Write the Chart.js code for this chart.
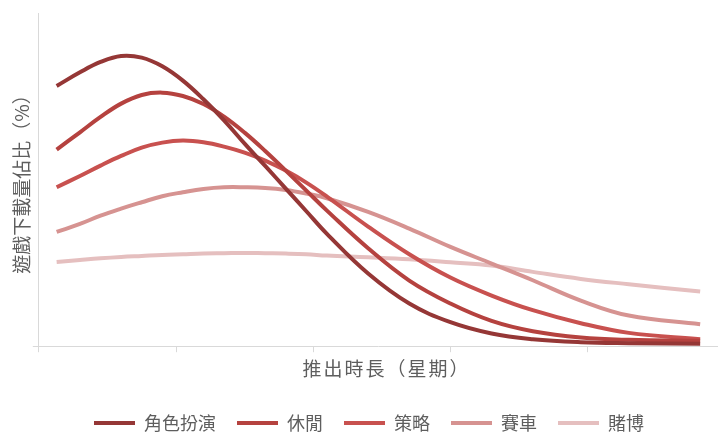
<!DOCTYPE html>
<html>
<head>
<meta charset="utf-8">
<script src="https://cdn.jsdelivr.net/npm/chart.js@4/dist/chart.umd.min.js"></script>
<style>
  html, body { margin: 0; padding: 0; background: #ffffff; }
  #wrap { width: 718px; height: 432px; }
</style>
</head>
<body>
<div id="wrap"><canvas id="c" width="718" height="432"></canvas></div>
<script>
// ---- data ----
const weeks = [1.3, 3, 4.5, 6, 7.5, 9, 10.5, 12, 13.5, 15, 16.5, 18, 19.5, 21, 24, 27, 30, 33, 36, 39.5, 43, 48.2];

const seriesNames = ['角色扮演', '休閒', '策略', '賽車', '賭博'];

const rolePlaying = [7.81, 8.22, 8.53, 8.71, 8.66, 8.40, 7.97, 7.41, 6.78, 6.08, 5.41, 4.73, 4.05, 3.37, 2.18, 1.28, 0.72, 0.38, 0.21, 0.12, 0.09, 0.07];
const casual      = [5.90, 6.42, 6.88, 7.28, 7.54, 7.61, 7.51, 7.27, 6.89, 6.41, 5.86, 5.27, 4.67, 4.07, 2.94, 1.97, 1.28, 0.76, 0.45, 0.26, 0.19, 0.16];
const strategy    = [4.77, 5.11, 5.42, 5.71, 5.96, 6.11, 6.17, 6.12, 5.99, 5.81, 5.57, 5.27, 4.91, 4.49, 3.59, 2.76, 2.06, 1.52, 1.08, 0.69, 0.40, 0.21];
const racing      = [3.43, 3.67, 3.92, 4.13, 4.32, 4.50, 4.62, 4.72, 4.77, 4.77, 4.75, 4.69, 4.58, 4.44, 4.03, 3.53, 2.98, 2.48, 1.98, 1.37, 0.92, 0.66];
const gambling    = [2.53, 2.59, 2.64, 2.68, 2.71, 2.74, 2.76, 2.78, 2.79, 2.80, 2.79, 2.78, 2.76, 2.72, 2.67, 2.61, 2.52, 2.42, 2.23, 2.02, 1.86, 1.64];

const xTitle = '推出時長（星期）';
const yTitle = '遊戲下載量佔比（%）';

// ---- styling ----
const colors = ['#953736', '#b5423f', '#c8514f', '#d69391', '#e5bfbf'];
const allSeries = [rolePlaying, casual, strategy, racing, gambling];
const FONT = "'Noto Sans CJK TC', 'Noto Sans CJK SC', 'Noto Sans', sans-serif";
const TEXT = '#5e5e5e';
const AXIS = '#d9d9d9';

const datasets = allSeries.map((vals, i) => ({
  label: seriesNames[i],
  data: weeks.map((w, j) => ({ x: w, y: vals[j] })),
  borderColor: colors[i],
  backgroundColor: colors[i],
  borderWidth: 4,
  pointRadius: 0,
  pointHoverRadius: 0,
  tension: 0.4,
  fill: false
}));

// small layout helpers: nudge the legend and space/shift the x-axis title
const layoutTweaks = {
  id: 'layoutTweaks',
  afterLayout(chart, args, opts) {
    const l = chart.legend;
    if (l) {
      l.left += opts.legendDx; l.right += opts.legendDx;
      l.top += opts.legendDy; l.bottom += opts.legendDy;
    }
    const xs = chart.scales.x;
    if (xs && !xs.__patched) {
      const orig = xs.drawTitle.bind(xs);
      xs.drawTitle = function () {
        const ctx = this.ctx;
        ctx.save();
        ctx.translate(opts.titleDx, 0);
        if ('letterSpacing' in ctx) ctx.letterSpacing = opts.titleSpacing;
        orig();
        ctx.restore();
      };
      xs.__patched = true;
    }
  }
};

new Chart(document.getElementById('c'), {
  type: 'line',
  data: { datasets },
  plugins: [layoutTweaks],
  options: {
    responsive: false,
    devicePixelRatio: 1,
    animation: false,
    layout: { padding: { top: 13, left: 0, right: 0, bottom: 0 } },
    scales: {
      x: {
        type: 'linear',
        min: 0,
        max: 49.5,
        ticks: { display: false, stepSize: 10 },
        grid: { display: true, drawOnChartArea: false, drawTicks: true, tickLength: 6, color: AXIS },
        border: { display: true, color: AXIS, width: 1 },
        title: {
          display: true, text: xTitle, color: TEXT,
          font: { family: FONT, size: 19 },
          padding: { top: 5, bottom: 3 }
        }
      },
      y: {
        min: 0,
        max: 10,
        ticks: { display: false },
        afterBuildTicks(scale) { scale.ticks = [{ value: 0 }]; },
        grid: { display: true, drawOnChartArea: false, drawTicks: true, tickLength: 6, color: AXIS },
        border: { display: true, color: AXIS, width: 1 },
        title: {
          display: true, text: yTitle, color: TEXT,
          font: { family: FONT, size: 19 },
          padding: { top: 10, bottom: 0 }
        }
      }
    },
    plugins: {
      layoutTweaks: { legendDx: 10, legendDy: 10, titleDx: 8, titleSpacing: '2px' },
      tooltip: { enabled: false },
      legend: {
        position: 'bottom',
        labels: {
          boxWidth: 41,
          boxHeight: 4,
          padding: 21,
          color: TEXT,
          font: { family: FONT, size: 18 },
          generateLabels(chart) {
            const items = Chart.defaults.plugins.legend.labels.generateLabels(chart);
            return items.map(it => Object.assign(it, { lineWidth: 0, fillStyle: it.strokeStyle }));
          }
        }
      }
    }
  }
});
</script>
</body>
</html>
